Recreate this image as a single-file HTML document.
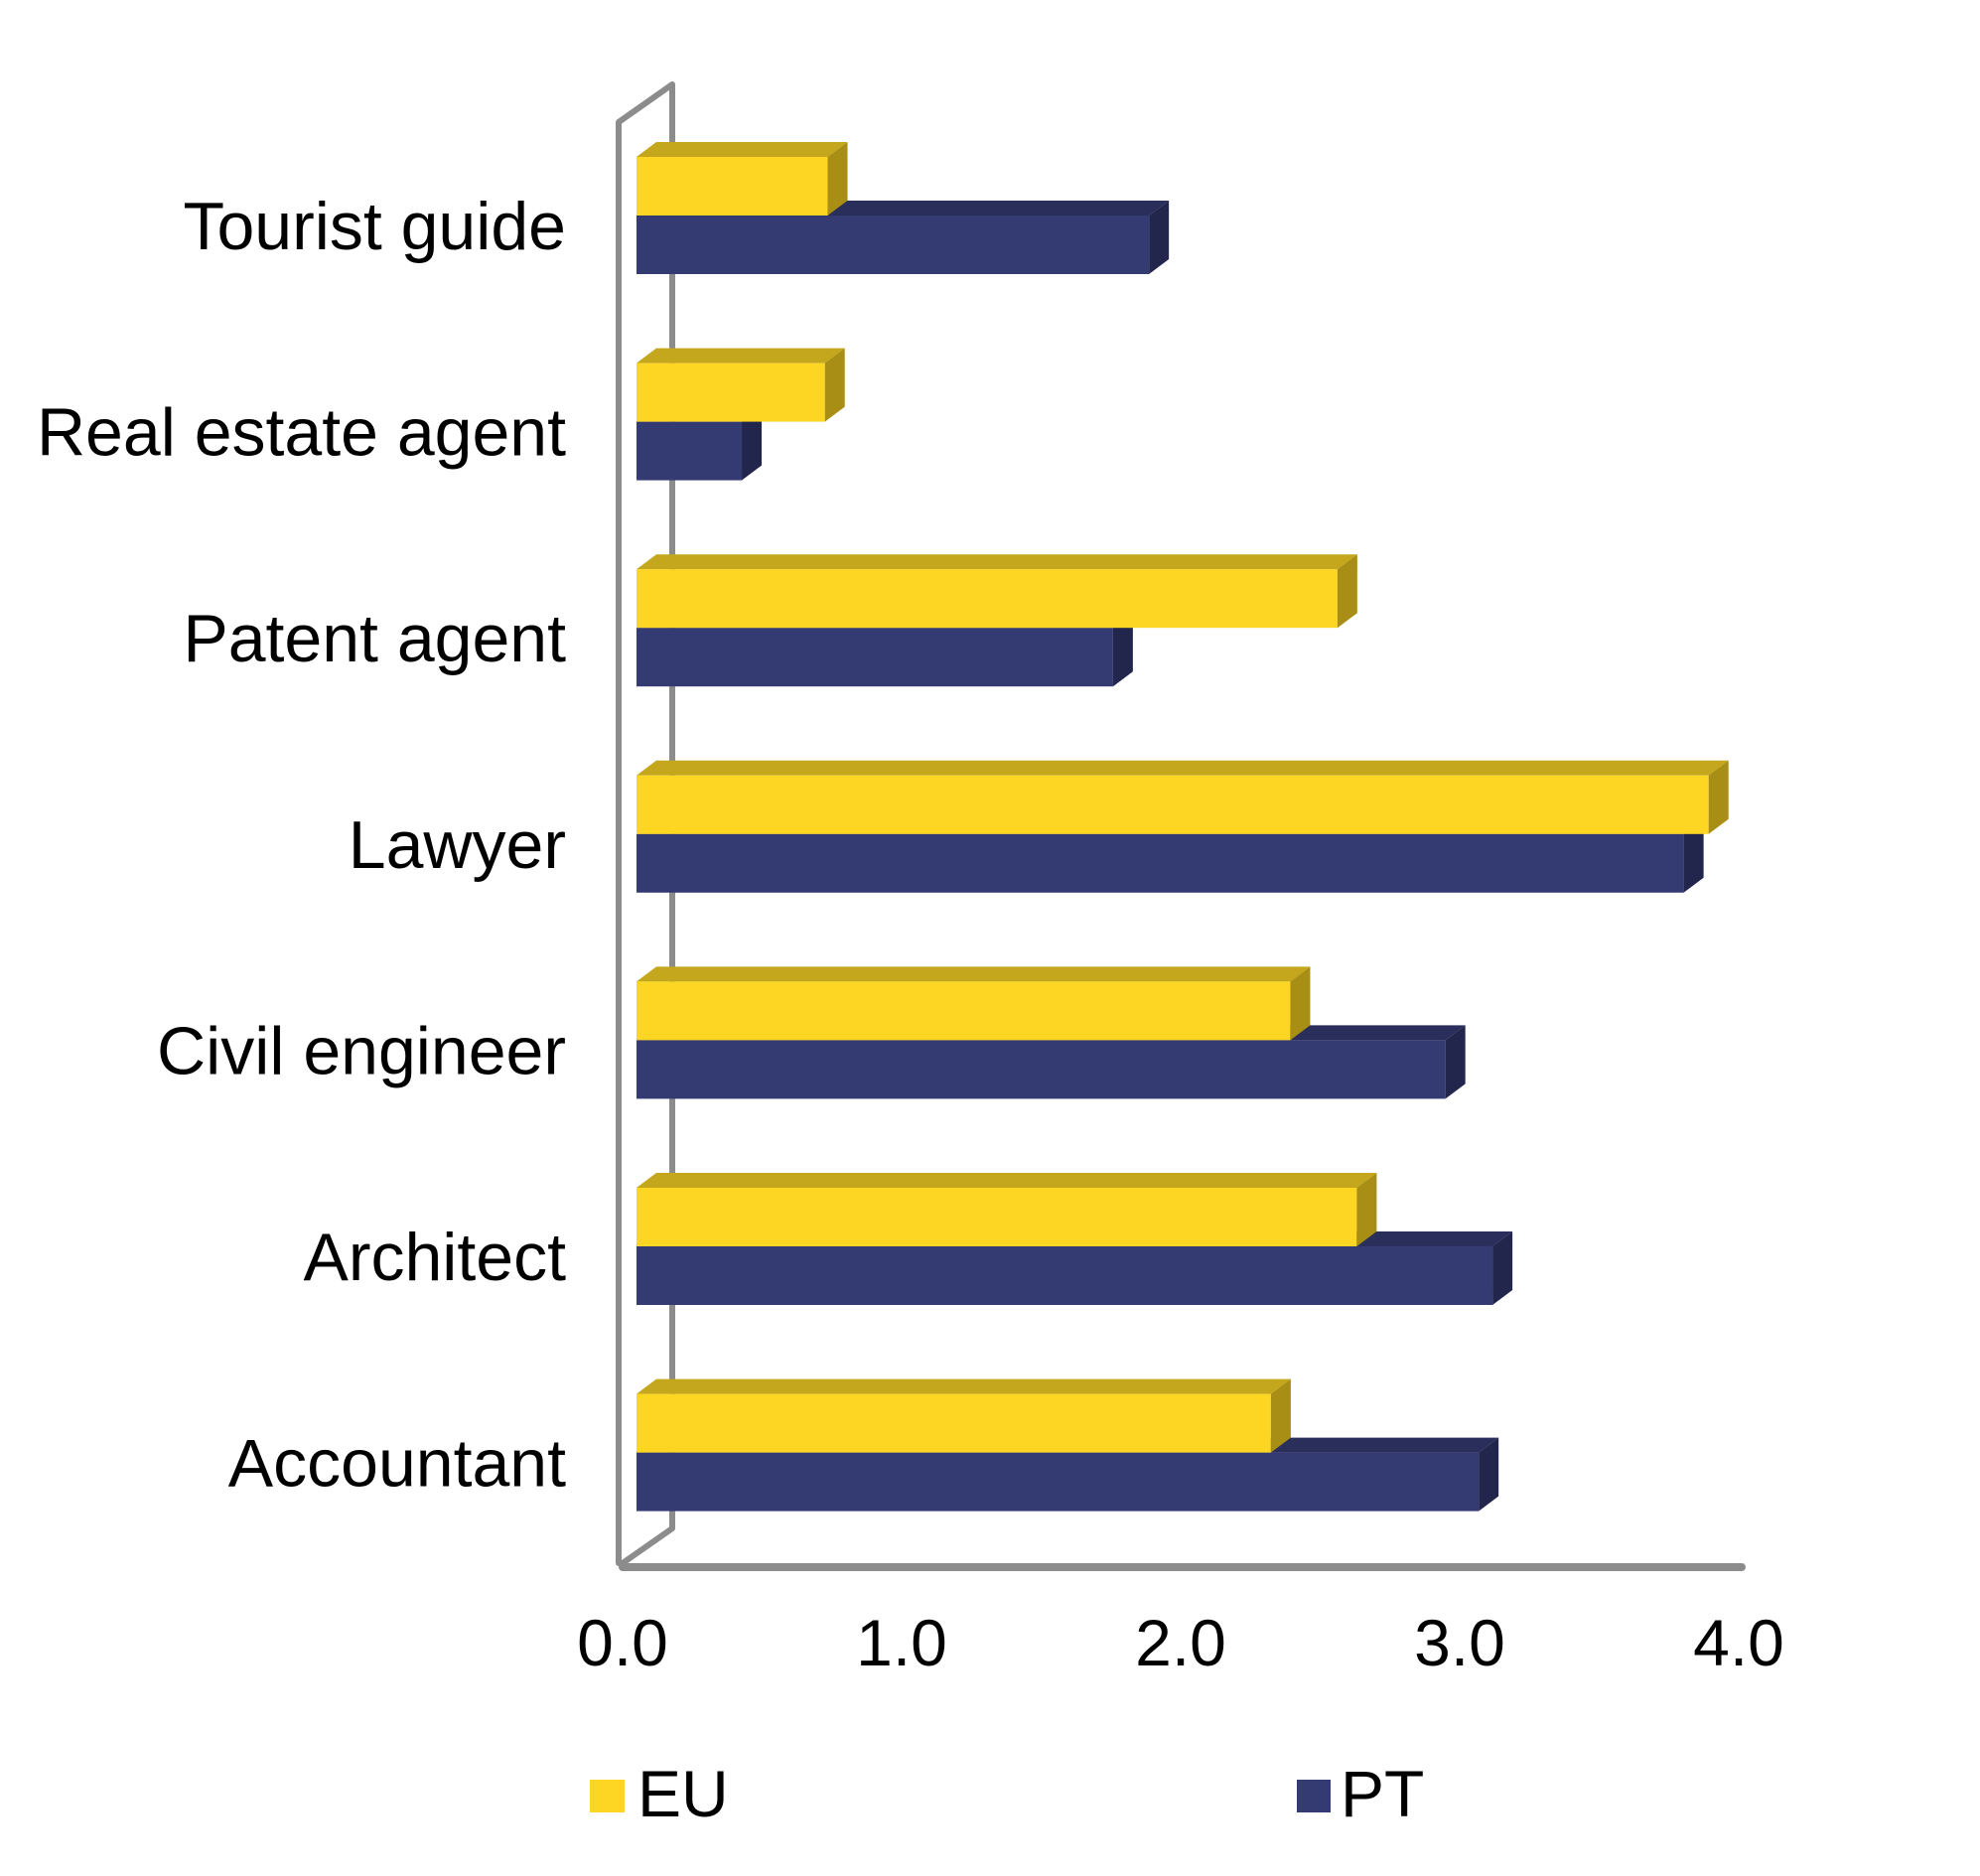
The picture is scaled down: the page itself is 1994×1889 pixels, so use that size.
<!DOCTYPE html>
<html><head><meta charset="utf-8"><style>
html,body{margin:0;padding:0;background:#fff;}
svg{display:block;font-family:"Liberation Sans",Arial,sans-serif;}
</style></head><body>
<svg id="chart" width="1994" height="1889" viewBox="0 0 1994 1889" xmlns="http://www.w3.org/2000/svg">
<rect width="1994" height="1889" fill="#fff"/>
<g id="walls" fill="none" stroke="#8c8c8c" stroke-width="6" stroke-linejoin="round" stroke-linecap="round">
<polyline points="627,1574 623,1574 623,123 677,85 677,1539 627,1574"/>
<line x1="627" y1="1578" x2="1754" y2="1578" stroke-width="8"/>
</g>
<g id="bars"></g>
<g id="labels"></g>
<g id="ticks"></g>
<g id="legend">
<rect x="594" y="1792" width="35" height="33" fill="#FDD623"/>
<text x="642" y="1829" font-size="66" fill="#000">EU</text>
<rect x="1306" y="1792" width="34" height="33" fill="#343A72"/>
<text x="1350" y="1829" font-size="66" fill="#000">PT</text>
</g>
</svg>
<script>
const categories = ["Tourist guide","Real estate agent","Patent agent","Lawyer","Civil engineer","Architect","Accountant"];
const euValues = [0.69, 0.68, 2.53, 3.87, 2.36, 2.60, 2.29];
const ptValues = [1.85, 0.38, 1.72, 3.78, 2.92, 3.09, 3.04];
const tickValues = [0, 1, 2, 3, 4];
const tickLabels = ["0.0","1.0","2.0","3.0","4.0"];

const NS = "http://www.w3.org/2000/svg";
const x0 = 641, kx = 279;
function xScale(v){ return x0 + v*kx; }
function yCenter(i){ return 231 + i*207.6; }
const DX = 20, DY = 15, BH = 59;

function el(tag, attrs, parent){
  const e = document.createElementNS(NS, tag);
  for (const k in attrs) e.setAttribute(k, attrs[k]);
  parent.appendChild(e);
  return e;
}
const barsG = document.getElementById('bars');
const labelsG = document.getElementById('labels');
const ticksG = document.getElementById('ticks');

function drawBar(v, yTop, cols, name){
  const g = el('g', {}, barsG);
  
  
  const xr = xScale(v);
  const top = el('polygon', {points:`${x0},${yTop} ${x0+DX},${yTop-DY} ${xr+DX},${yTop-DY} ${xr},${yTop}`, fill:cols[1]}, g);
  
  
  const front = el('rect', {x:x0, y:yTop, width:Math.max(0,xr-x0), height:BH, fill:cols[0]}, g);
  
  
  const side = el('polygon', {points:`${xr},${yTop} ${xr+DX},${yTop-DY} ${xr+DX},${yTop+BH-DY} ${xr},${yTop+BH}`, fill:cols[2]}, g);
  
  
}

categories.forEach((c, i) => {
  const cy = yCenter(i);
  const slug = c.toLowerCase().replace(/\s+/g,'-');
  drawBar(ptValues[i], cy - 14, ["#343A72","#2A2E5A","#22264D"], 'bar-pt-' + slug);
  drawBar(euValues[i], cy - 73, ["#FDD623","#C4A71C","#A88E14"], 'bar-eu-' + slug);
  const t = el('text', {x:570, y:cy+20, 'text-anchor':'end', 'font-size':68, fill:'#000'}, labelsG);
  
  
  t.textContent = c;
});

tickValues.forEach((v, i) => {
  const t = el('text', {x:627 + v*281, y:1677, 'text-anchor':'middle', 'font-size':66, fill:'#000'}, ticksG);
  
  
  t.textContent = tickLabels[i];
});
</script>
</body></html>
